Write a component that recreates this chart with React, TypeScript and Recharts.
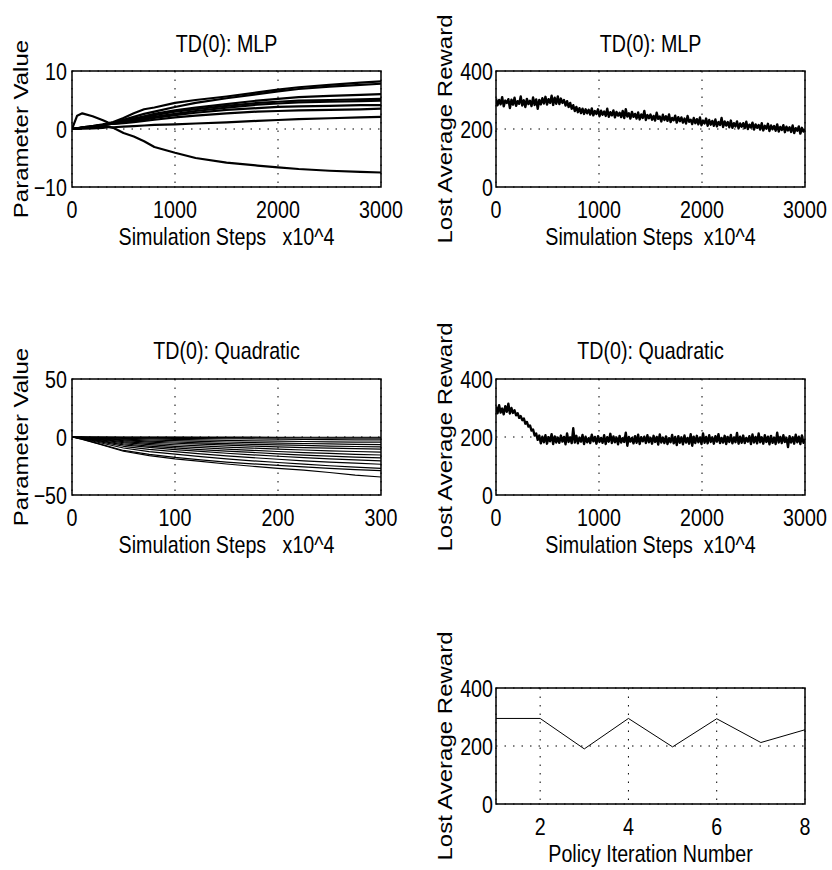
import { LineChart, Line, XAxis, YAxis, CartesianGrid, ReferenceArea } from "recharts";

// the original figure is squeezed horizontally, so text is drawn with a narrow x-scale
const FONT = '"Liberation Sans", Arial, sans-serif';
const SQUEEZE = 0.82;

// ---- TD(0): MLP, parameter values ----
const mlpSteps = [0, 50, 100, 200, 300, 350, 400, 500, 600, 700, 800, 1000, 1200, 1500, 1800, 2000, 2200, 2500, 2800, 3000];
const mlpParamA = [0, 0.1, 0.3, 0.5, 0.8, 1.0, 1.2, 1.9, 2.7, 3.4, 3.7, 4.5, 5.0, 5.6, 6.3, 6.8, 7.2, 7.6, 8.0, 8.2];
const mlpParamB = [0, 0.1, 0.3, 0.5, 0.7, 0.9, 1.1, 1.6, 2.1, 2.6, 3.0, 3.8, 4.5, 5.3, 6.0, 6.5, 6.9, 7.3, 7.6, 7.8];
const mlpParamC = [0, 0.1, 0.2, 0.4, 0.7, 0.9, 1.0, 1.4, 1.8, 2.2, 2.6, 3.2, 3.7, 4.3, 4.9, 5.2, 5.5, 5.7, 5.9, 6.0];
const mlpParamD = [0, 0.1, 0.2, 0.4, 0.7, 0.9, 1.0, 1.3, 1.7, 2.0, 2.4, 3.0, 3.4, 4.0, 4.5, 4.7, 4.9, 5.0, 5.1, 5.2];
const mlpParamE = [0, 0.1, 0.2, 0.4, 0.6, 0.8, 0.9, 1.2, 1.5, 1.8, 2.1, 2.6, 3.1, 3.7, 4.2, 4.4, 4.6, 4.7, 4.8, 4.9];
const mlpParamF = [0, 0.1, 0.2, 0.3, 0.6, 0.8, 0.9, 1.1, 1.4, 1.6, 1.9, 2.4, 2.8, 3.3, 3.6, 3.8, 3.9, 4.0, 4.1, 4.1];
const mlpParamG = [0, 2.3, 2.7, 2.2, 1.5, 1.1, 0.9, 1.0, 1.2, 1.4, 1.6, 2.0, 2.3, 2.7, 3.0, 3.1, 3.2, 3.3, 3.4, 3.5];
const mlpParamH = [0, 0, 0.1, 0.1, 0.2, 0.3, 0.3, 0.4, 0.5, 0.6, 0.7, 0.8, 0.95, 1.15, 1.4, 1.55, 1.7, 1.85, 2.0, 2.1];
const mlpParamN = [0, 0.05, 0.1, 0.2, 0.35, 0.4, 0.2, -0.7, -1.3, -2.1, -3.1, -4.1, -5.0, -5.8, -6.3, -6.6, -6.9, -7.2, -7.4, -7.5];
const mlpParams = [mlpParamA, mlpParamB, mlpParamC, mlpParamD, mlpParamE, mlpParamF, mlpParamG, mlpParamH, mlpParamN];

// ---- TD(0): MLP, lost average reward (one value every 15 steps) ----
const mlpReward = [
  305, 282, 300, 285, 310, 278, 298, 290, 303, 272,
  301, 284, 308, 280, 296, 287, 312, 281, 299, 276,
  304, 286, 297, 279, 309, 283, 302, 270, 300, 285,
  306, 288, 311, 284, 303, 290, 315, 283, 308, 287,
  312, 286, 305, 290, 300, 281, 296, 276, 290, 270,
  282, 262, 276, 258, 272, 255, 270, 252, 268, 254,
  266, 250, 271, 247, 262, 252, 268, 244, 263, 249,
  260, 245, 270, 242, 258, 247, 264, 240, 259, 246,
  256, 241, 262, 238, 268, 243, 254, 236, 259, 242,
  252, 236, 257, 233, 250, 238, 262, 231, 248, 237,
  250, 232, 245, 229, 256, 235, 243, 226, 249, 231,
  244, 228, 250, 224, 238, 230, 246, 222, 241, 227,
  240, 222, 236, 219, 245, 225, 232, 217, 238, 220,
  234, 216, 240, 213, 229, 219, 236, 211, 231, 215,
  228, 211, 233, 209, 224, 214, 238, 207, 226, 212,
  224, 206, 229, 204, 220, 209, 226, 202, 219, 208,
  220, 203, 225, 200, 215, 205, 222, 198, 216, 204,
  214, 198, 220, 195, 211, 201, 218, 193, 212, 199,
  210, 194, 216, 191, 207, 197, 213, 189, 208, 195,
  206, 190, 212, 186, 203, 194, 209, 184, 204, 191,
  200,
];

// ---- TD(0): Quadratic, parameter values ----
const quadSteps = [0, 10, 25, 50, 75, 100, 125, 150, 175, 200, 225, 250, 275, 300];
const quadParams = [
  [0, -2.0, -5.8, -12.3, -16.0, -18.8, -21.0, -23.3, -25.2, -27.0, -28.6, -30.6, -32.8, -34.5],
  [0, -1.9, -5.5, -11.6, -15.0, -17.6, -19.7, -21.6, -23.1, -24.5, -25.8, -27.0, -28.2, -29.0],
  [0, -1.5, -4.5, -9.5, -12.6, -14.8, -16.9, -18.8, -20.5, -22.0, -23.4, -24.8, -26.0, -27.0],
  [0, -1.3, -3.8, -8.0, -10.6, -12.6, -14.5, -16.2, -17.8, -19.2, -20.5, -21.6, -22.6, -23.5],
  [0, -1.1, -3.2, -6.8, -9.0, -10.8, -12.4, -14.0, -15.4, -16.6, -17.8, -18.8, -19.7, -20.5],
  [0, -1.0, -2.8, -5.8, -7.8, -9.4, -10.8, -12.1, -13.3, -14.5, -15.6, -16.5, -17.3, -18.0],
  [0, -0.8, -2.3, -4.8, -6.6, -8.0, -9.2, -10.4, -11.5, -12.5, -13.4, -14.2, -14.9, -15.5],
  [0, -0.7, -1.9, -4.0, -5.5, -6.7, -7.7, -8.7, -9.6, -10.4, -11.2, -11.9, -12.5, -13.0],
  [0, -0.5, -1.5, -3.2, -4.4, -5.4, -6.2, -7.0, -7.8, -8.5, -9.1, -9.6, -10.1, -10.5],
  [0, -0.4, -1.2, -2.5, -3.5, -4.3, -5.0, -5.7, -6.3, -6.8, -7.3, -7.8, -8.2, -8.5],
  [0, -0.3, -0.9, -1.9, -2.6, -3.2, -3.8, -4.3, -4.8, -5.2, -5.6, -6.0, -6.3, -6.5],
  [0, -0.2, -0.6, -1.2, -1.7, -2.1, -2.5, -2.9, -3.3, -3.6, -3.9, -4.2, -4.4, -4.5],
  [0, -0.1, -0.3, -0.6, -0.9, -1.1, -1.3, -1.5, -1.7, -1.9, -2.1, -2.3, -2.4, -2.5],
  [0, 0, -0.1, -0.2, -0.3, -0.4, -0.5, -0.6, -0.7, -0.8, -0.85, -0.9, -0.95, -1.0],
  [0, 0, 0, 0, 0, -0.1, -0.1, -0.1, -0.1, -0.2, -0.2, -0.2, -0.2, -0.2],
];

// ---- TD(0): Quadratic, lost average reward (one value every 15 steps) ----
const quadReward = [
  305, 282, 310, 284, 298, 278, 306, 287, 315, 281,
  300, 283, 292, 275, 282, 266, 272, 258, 264, 246,
  252, 236, 240, 222, 226, 205, 212, 190, 205, 178,
  201, 182, 206, 177, 199, 185, 210, 176, 202, 181,
  198, 180, 205, 184, 200, 175, 212, 183, 199, 179,
  230, 181, 204, 178, 198, 184, 207, 176, 201, 182,
  196, 179, 208, 185, 200, 177, 203, 183, 197, 180,
  206, 176, 199, 184, 211, 179, 202, 182, 198, 175,
  204, 181, 196, 183, 215, 170, 200, 184, 197, 178,
  203, 180, 208, 176, 199, 185, 201, 179, 206, 182,
  197, 177, 204, 183, 200, 174, 209, 181, 198, 179,
  202, 176, 196, 182, 207, 178, 200, 172, 203, 180,
  199, 175, 205, 181, 197, 177, 210, 170, 201, 179,
  204, 182, 198, 176, 212, 180, 200, 178, 206, 183,
  199, 177, 203, 184, 210, 179, 197, 181, 204, 176,
  200, 183, 207, 178, 198, 182, 214, 177, 201, 180,
  205, 179, 197, 184, 203, 176, 209, 181, 200, 178,
  212, 182, 199, 177, 206, 183, 201, 175, 204, 180,
  198, 176, 215, 181, 200, 179, 206, 183, 197, 165,
  203, 181, 199, 177, 208, 182, 201, 176, 205, 180,
  192,
];
const REWARD_STEP = 15;

// ---- Policy iteration ----
const policyIter = [1, 2, 3, 4, 5, 6, 7, 8];
const policyReward = [295, 295, 190, 295, 197, 294, 212, 256];

// ticks
const stepTicks3000 = [0, 1000, 2000, 3000];
const stepTicks300 = [0, 100, 200, 300];
const paramTicks10 = [-10, 0, 10];
const paramTicks50 = [-50, 0, 50];
const rewardTicks = [0, 200, 400];
const iterTicks = [2, 4, 6, 8];
const minor3000 = Array.from({ length: 31 }, (_, i) => i * 100);
const minor300 = Array.from({ length: 31 }, (_, i) => i * 10);
const minorIter = Array.from({ length: 29 }, (_, i) => 1 + i * 0.25);

const toRows = (xs: number[], series: number[][]) =>
  xs.map((x, i) => {
    const row: Record<string, number> = { x };
    series.forEach((s, j) => (row["s" + j] = s[i]));
    return row;
  });

const mlpParamRows = toRows(mlpSteps, mlpParams);
const quadParamRows = toRows(quadSteps, quadParams);
const mlpRewardRows = mlpReward.map((r, i) => ({ x: i * REWARD_STEP, s0: r }));
const quadRewardRows = quadReward.map((r, i) => ({ x: i * REWARD_STEP, s0: r }));
const policyRows = policyIter.map((x, i) => ({ x, s0: policyReward[i] }));

const minus = (v: number) => String(v).replace("-", "\u2212");

const PW = 309;
const PH = 116;
const LEFT_SPACE = 72;
const TOP_SPACE = 71;
const BOTTOM_SPACE = 70;
const RIGHT_SPACE = 27;

// squeezed text at (x, y)
const SqText = ({ x, y, anchor, dy, children }: any) => (
  <text
    transform={`translate(${x},${y}) scale(${SQUEEZE},1)`}
    textAnchor={anchor}
    dy={dy}
    fill="#000"
    style={{ fontFamily: FONT, fontSize: 24, whiteSpace: "pre" }}>
    {children}
  </text>
);

const XTick = (t: any) => (
  <SqText x={t.x} y={t.y} anchor="middle" dy="0.71em">
    {minus(t.payload.value)}
  </SqText>
);
const YTick = (t: any) => (
  <SqText x={t.x} y={t.y} anchor="end" dy="0.36em">
    {minus(t.payload.value)}
  </SqText>
);

type PanelProps = {
  left: number;
  top: number;
  title?: string;
  titleGap?: number;
  xLabel: string;
  yLabel: string;
  xDomain: [number, number];
  xTicks: number[];
  minorTicks: number[];
  yDomain: [number, number];
  yTicks: number[];
  yTickMargin: number;
  data: Record<string, number>[];
  lines: number;
  strokeWidth: number;
};

const Panel = (p: PanelProps) => (
  <div style={{ position: "absolute", left: p.left - LEFT_SPACE, top: p.top - TOP_SPACE }}>
    <LineChart
      width={LEFT_SPACE + PW + RIGHT_SPACE}
      height={TOP_SPACE + PH + BOTTOM_SPACE}
      data={p.data}
      margin={{ top: 0, right: RIGHT_SPACE, bottom: 0, left: 0 }}>
      <CartesianGrid stroke="#000" strokeDasharray="1.5 7" strokeWidth={1} />
      <XAxis
        dataKey="x"
        type="number"
        domain={p.xDomain}
        ticks={p.xTicks}
        interval={0}
        allowDataOverflow
        height={BOTTOM_SPACE}
        axisLine={false}
        tickLine={false}
        tickSize={0}
        tickMargin={14}
        tick={<XTick />}
        label={(lp: any) => {
          const vb = lp.viewBox || {};
          return (
            <SqText x={vb.x + vb.width / 2} y={vb.y + 58} anchor="middle">
              {p.xLabel}
            </SqText>
          );
        }}
      />
      <XAxis
        xAxisId="top"
        orientation="top"
        dataKey="x"
        type="number"
        domain={p.xDomain}
        ticks={p.minorTicks}
        interval={0}
        allowDataOverflow
        height={TOP_SPACE}
        axisLine={false}
        tick={false}
        tickSize={-3}
        tickLine={{ stroke: "#000", strokeWidth: 1 }}
        label={(lp: any) => {
          const vb = lp.viewBox || {};
          if (!p.title) return null;
          return (
            <SqText x={vb.x + vb.width / 2} y={vb.y + vb.height - (p.titleGap ?? 19)} anchor="middle">
              {p.title}
            </SqText>
          );
        }}
      />
      <YAxis
        type="number"
        domain={p.yDomain}
        ticks={p.yTicks}
        interval={0}
        allowDataOverflow
        width={LEFT_SPACE}
        axisLine={false}
        tickLine={false}
        tickSize={0}
        tickMargin={p.yTickMargin}
        tick={<YTick />}
        label={(lp: any) => {
          const vb = lp.viewBox || {};
          const x = vb.x + vb.width - 44;
          const cy = vb.y + vb.height / 2;
          return (
            <text
              transform={`translate(${x},${cy}) scale(0.86,1) rotate(-90)`}
              textAnchor="middle"
              fill="#000"
              style={{ fontFamily: FONT, fontSize: 24 }}>
              {p.yLabel}
            </text>
          );
        }}
      />
      {Array.from({ length: p.lines }, (_, j) => (
        <Line
          key={j}
          dataKey={"s" + j}
          type="linear"
          stroke="#000"
          strokeWidth={p.strokeWidth}
          strokeLinejoin="round"
          dot={false}
          activeDot={false}
          isAnimationActive={false}
        />
      ))}
      <ReferenceArea
        x1={p.xDomain[0]}
        x2={p.xDomain[1]}
        y1={p.yDomain[0]}
        y2={p.yDomain[1]}
        fill="none"
        fillOpacity={0}
        stroke="#000"
        strokeWidth={1.5}
        ifOverflow="visible"
      />
    </LineChart>
  </div>
);

export default function App() {
  return (
    <div
      style={{
        position: "absolute",
        left: 0,
        top: 0,
        width: 832,
        height: 870,
        overflow: "hidden",
        background: "#fff",
      }}>
      <Panel
        left={72}
        top={71}
        title="TD(0): MLP"
        titleGap={19}
        xLabel="Simulation Steps   x10^4"
        yLabel="Parameter Value"
        xDomain={[0, 3000]}
        xTicks={stepTicks3000}
        minorTicks={minor3000}
        yDomain={[-10, 10]}
        yTicks={paramTicks10}
        yTickMargin={5}
        data={mlpParamRows}
        lines={mlpParams.length}
        strokeWidth={2.2}
      />
      <Panel
        left={496}
        top={71}
        title="TD(0): MLP"
        titleGap={19}
        xLabel="Simulation Steps  x10^4"
        yLabel="Lost Average Reward"
        xDomain={[0, 3000]}
        xTicks={stepTicks3000}
        minorTicks={minor3000}
        yDomain={[0, 400]}
        yTicks={rewardTicks}
        yTickMargin={3}
        data={mlpRewardRows}
        lines={1}
        strokeWidth={2.4}
      />
      <Panel
        left={72}
        top={379}
        title="TD(0): Quadratic"
        titleGap={20}
        xLabel="Simulation Steps   x10^4"
        yLabel="Parameter Value"
        xDomain={[0, 300]}
        xTicks={stepTicks300}
        minorTicks={minor300}
        yDomain={[-50, 50]}
        yTicks={paramTicks50}
        yTickMargin={5}
        data={quadParamRows}
        lines={quadParams.length}
        strokeWidth={1.2}
      />
      <Panel
        left={496}
        top={379}
        title="TD(0): Quadratic"
        titleGap={20}
        xLabel="Simulation Steps  x10^4"
        yLabel="Lost Average Reward"
        xDomain={[0, 3000]}
        xTicks={stepTicks3000}
        minorTicks={minor3000}
        yDomain={[0, 400]}
        yTicks={rewardTicks}
        yTickMargin={3}
        data={quadRewardRows}
        lines={1}
        strokeWidth={2.4}
      />
      <Panel
        left={496}
        top={688}
        xLabel="Policy Iteration Number"
        yLabel="Lost Average Reward"
        xDomain={[1, 8]}
        xTicks={iterTicks}
        minorTicks={minorIter}
        yDomain={[0, 400]}
        yTicks={rewardTicks}
        yTickMargin={3}
        data={policyRows}
        lines={1}
        strokeWidth={1}
      />
    </div>
  );
}
